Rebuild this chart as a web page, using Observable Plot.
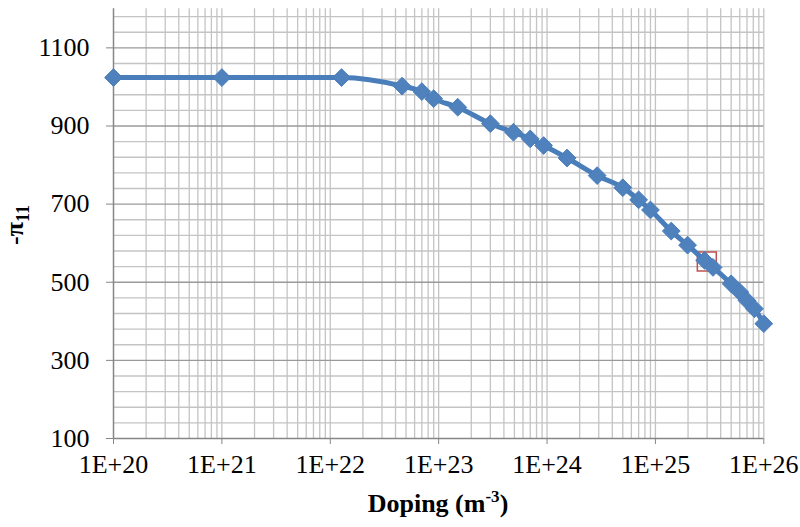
<!DOCTYPE html>
<html><head><meta charset="utf-8">
<script src="https://cdn.jsdelivr.net/npm/d3@7"></script>
<script src="https://cdn.jsdelivr.net/npm/@observablehq/plot@0.6"></script>
<style>
body{margin:0;background:#fff}
#chart svg{font-family:"Liberation Serif","Times New Roman",serif;}
</style>
</head><body><div id="chart"></div>
<script>
// Data
const doping = [1e20, 1e21, 1.27e22, 4.6e22, 7.0e22, 9.0e22, 1.5e23, 3.0e23, 4.9e23, 7.0e23, 9.3e23, 1.53e24, 2.9e24, 5.0e24, 7.0e24, 9.0e24, 1.4e25, 1.98e25, 2.84e25, 3.4e25, 5e25, 6e25, 7e25, 8.2e25, 1e26];
const pi11   = [1024, 1024, 1024, 1002, 988, 970, 948, 906, 884, 867, 850, 818, 773, 742, 711, 685, 631, 595, 556, 538, 496, 475, 453, 432, 394];
const xTicks = [1e20, 1e21, 1e22, 1e23, 1e24, 1e25, 1e26];
const xTickLabels = ["1E+20", "1E+21", "1E+22", "1E+23", "1E+24", "1E+25", "1E+26"];
const yTicks = [100, 300, 500, 700, 900, 1100];
const highlightDoping = [2.98e25];
const highlightPi11 = [553];

const data = doping.map((d, i) => ({doping: d, pi11: pi11[i]}));
const highlight = highlightDoping.map((d, i) => ({doping: d, pi11: highlightPi11[i]}));
const xMinor = xTicks.slice(0, -1).flatMap(d => [2,3,4,5,6,7,8,9].map(k => k * d));
const yMinor = d3.range(140, 1200, 40).filter(v => (v - 100) % 200 !== 0);

const grid = "#c4c4c4";
const axisCol = "#868686";

const plot = Plot.plot({
  width: 800, height: 527,
  marginLeft: 113, marginRight: 36.7, marginTop: 8.3, marginBottom: 89,
  style: {fontFamily: "'Liberation Serif','Times New Roman',serif", fontSize: "26px", background: "#fff", color: "#000", overflow: "visible"},
  x: {type: "log", domain: [1e20, 1e26]},
  y: {domain: [100, 1200]},
  marks: [
    Plot.ruleX(xMinor, {stroke: grid, strokeWidth: 1.3}),
    Plot.ruleX(xTicks.slice(1), {stroke: grid, strokeWidth: 1.3}),
    Plot.ruleY(yMinor, {stroke: grid, strokeWidth: 1.3}),
    Plot.ruleY(yTicks.slice(1), {stroke: "#9a9a9a", strokeWidth: 1.3}),
    Plot.axisY({ticks: yTicks, tickSize: 7, tickPadding: 17, label: null, stroke: axisCol, fill: "#000", tickFormat: d => String(d)}),
    Plot.axisX({ticks: xTicks, tickSize: 6, tickPadding: 10, label: null, stroke: axisCol, fill: "#000",
      tickFormat: d => xTickLabels[xTicks.findIndex(t => Math.abs(t - d) / t < 1e-6)]}),
    Plot.ruleX([1e20], {stroke: axisCol, strokeWidth: 1.5}),
    Plot.ruleY([100], {stroke: axisCol, strokeWidth: 1.5}),
    Plot.dot(highlight, {x: "doping", y: "pi11", symbol: "square", r: 10.7, fill: "none", stroke: "#C0504D", strokeWidth: 1.5}),
    Plot.line(data, {x: "doping", y: "pi11", stroke: "#4A7EBB", strokeWidth: 5, curve: "monotone-x"}),
    Plot.dot(data, {x: "doping", y: "pi11", symbol: "diamond2", r: 8, fill: "#4F81BD", stroke: "#4A7EBB", strokeWidth: 1})
  ]
});

const svg = d3.select(plot);
const xt = svg.append("text")
  .attr("x", 438).attr("y", 512)
  .attr("text-anchor", "middle").attr("font-weight", "bold").attr("font-size", 26).attr("fill", "#000");
xt.append("tspan").text("Doping (m");
xt.append("tspan").attr("font-size", 17).attr("dy", -10).text("-3");
xt.append("tspan").attr("dy", 10).text(")");

const yt = svg.append("text")
  .attr("transform", "translate(23,225) rotate(-90)")
  .attr("text-anchor", "middle").attr("font-weight", "bold").attr("font-size", 26).attr("fill", "#000");
yt.append("tspan").text("-π");
yt.append("tspan").attr("font-size", 18).attr("dy", 6).text("11");

document.getElementById("chart").appendChild(plot);
</script>
</body></html>
